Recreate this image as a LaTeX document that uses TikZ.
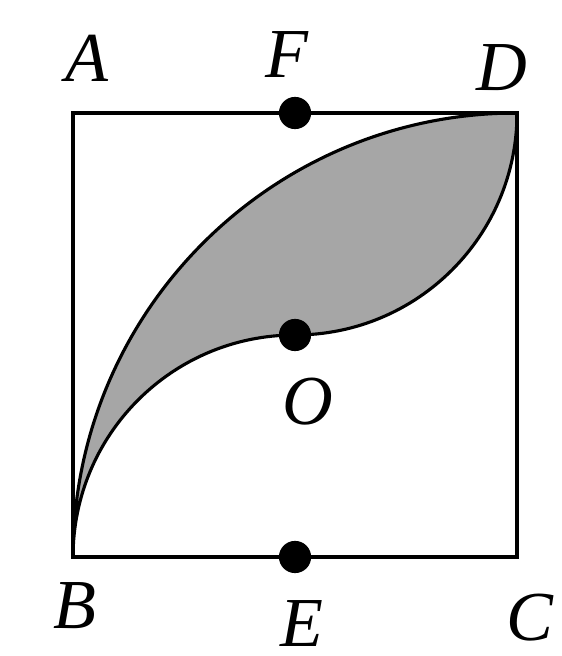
\documentclass[tikz,border=0pt]{standalone}
\usepackage{fontspec}
\setmainfont{Liberation Serif}
\definecolor{leafgray}{RGB}{166,166,166}

\begin{document}
\begin{tikzpicture}[
            edge/.style={line width=1.1pt, draw=black},
            curve/.style={line width=0.8pt, draw=black},
            leaf/.style={fill=leafgray},
            dot/.style={circle, fill=black, inner sep=0pt, minimum size=0.29cm},
            lbl/.style={font=\fontsize{18}{20}\selectfont\itshape},
        ]
            \useasboundingbox (-0.658,-0.892) rectangle (4.405,5.018);

            % Corners and midpoints
            \coordinate (A) at (0,4);
            \coordinate (B) at (0,0);
            \coordinate (C) at (4,0);
            \coordinate (D) at (4,4);
            \coordinate (E) at (2,0);
            \coordinate (F) at (2,4);
            \coordinate (O) at (2,2);

            % Shaded region
            \filldraw[leaf, curve] (B) arc[start angle=180, end angle=90, radius=4]
                arc[start angle=0, end angle=-90, radius=2]
                arc[start angle=90, end angle=180, radius=2] -- cycle;

            % Square
            \draw[edge] (A) -- (D) -- (C) -- (B) -- cycle;

            % Points
            \node[dot] (dotF) at (F) {};
            \node[dot] (dotO) at (O) {};
            \node[dot] (dotE) at (E) {};

            % Labels
            \node[lbl] (labA) at (0.126,4.495) {A};
            \node[lbl] (labF) at (1.928,4.523) {F};
            \node[lbl] (labD) at (3.865,4.405) {D};
            \node[lbl] (labB) at (0.018,-0.441) {B};
            \node[lbl] (labE) at (2.063,-0.6) {E};
            \node[lbl] (labC) at (4.117,-0.55) {C};
            \node[lbl] (labO) at (2.117,1.396) {O};
        \end{tikzpicture}
\end{document}
